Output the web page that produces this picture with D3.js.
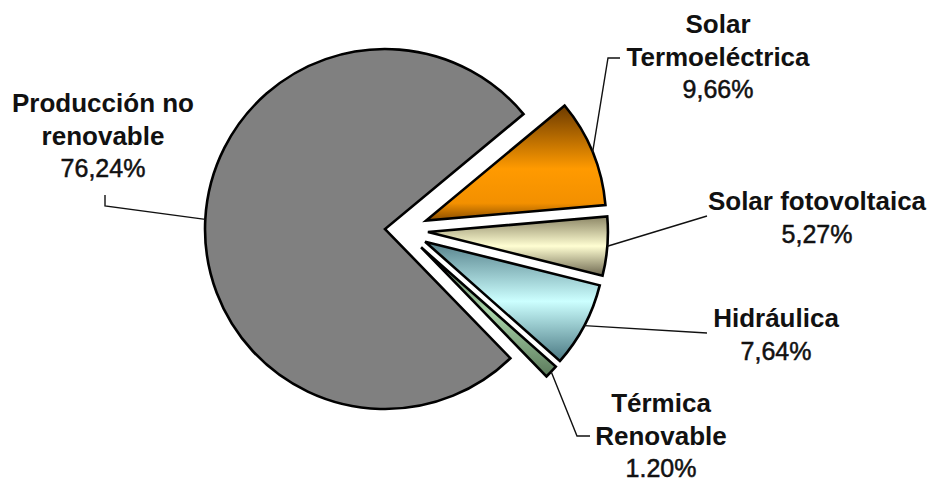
<!DOCTYPE html>
<html>
<head>
<meta charset="utf-8">
<script src="https://cdn.jsdelivr.net/npm/d3@7"></script>
<style>
  html, body { margin: 0; padding: 0; background: #ffffff; }
  svg { display: block; }
  .name { font-family: "Liberation Sans", Arial, sans-serif; font-weight: bold; font-size: 26px; fill: #111; }
  .pct { font-family: "Liberation Sans", Arial, sans-serif; font-weight: normal; font-size: 25px; fill: #111; stroke: #111; stroke-width: 0.5px; }
</style>
</head>
<body>
<div id="chart"></div>
<script>
// Data
const categories = ["Solar Termoeléctrica", "Solar fotovoltaica", "Hidráulica", "Térmica Renovable", "Producción no renovable"];
const values = [9.66, 5.27, 7.64, 1.20, 76.24];
const labelLines = [["Solar", "Termoeléctrica"], ["Solar fotovoltaica"], ["Hidráulica"], ["Térmica", "Renovable"], ["Producción no", "renovable"]];
const pctLabels = ["9,66%", "5,27%", "7,64%", "1.20%", "76,24%"];

// Layout / style
const width = 933, height = 481;
const cx = 403, cy = 230, radius = 180;
const startDeg = 50.3;
const explode = [25, 25, 25, 25, 18];
const lineHeight = 32.5;

// gradient stops per slice (top, middle, bottom of the slice box)
const gradients = [
    [["0", "#6b3a00"], ["0.55", "#ff9a00"], ["0.85", "#f39000"], ["1", "#8a4e00"]],
    [["0", "#8c8666"], ["0.5", "#fffed2"], ["1", "#6e6850"]],
    [["0", "#55808a"], ["0.5", "#ccffff"], ["1", "#4a7882"]],
    [["0", "#4d6b4d"], ["0.5", "#a9d4a9"], ["1", "#5b7a5b"]],
    null
];

// label anchor (centre x, first baseline y) and leader elbows, by slice
const labelPos = [[718, 33], [817, 210], [776, 327], [661, 412], [103, 112]];
const leaderElbows = [
    [[608, 58], [620, 58]],
    [[707, 216]],
    [[707, 333]],
    [[577, 436], [590, 436]],
    [[105, 206], [105, 195]]
];

const svg = d3.select('#chart').append('svg')
    .attr('width', width)
    .attr('height', height);

const defs = svg.append('defs');
gradients.forEach((stops, i) => {
    if (!stops) return;
    const lg = defs.append('linearGradient')
        .attr('id', 'grad' + i)
        .attr('x1', 0).attr('y1', 0).attr('x2', 0).attr('y2', 1);
    stops.forEach(s => lg.append('stop').attr('offset', s[0]).attr('stop-color', s[1]));
});

const start = startDeg * Math.PI / 180;
const pie = d3.pie()
    .sort(null)
    .value(d => d)
    .startAngle(start)
    .endAngle(start + 2 * Math.PI);

const arcs = pie(values);
const arc = d3.arc().innerRadius(0).outerRadius(radius);

// offset of each exploded slice
function offset(d, i) {
    const a = (d.startAngle + d.endAngle) / 2;
    return [Math.sin(a) * explode[i], -Math.cos(a) * explode[i]];
}

const g = svg.append('g').attr('transform', `translate(${cx},${cy})`);

g.selectAll('path.slice')
    .data(arcs)
    .enter()
    .append('path')
    .attr('class', 'slice')
    .attr('transform', (d, i) => {
        const o = offset(d, i);
        return `translate(${o[0]},${o[1]})`;
    })
    .attr('d', arc)
    .attr('fill', (d, i) => gradients[i] ? `url(#grad${i})` : '#808080')
    .attr('stroke', '#000')
    .attr('stroke-width', 2.6)
    .attr('stroke-linejoin', 'miter');

// leader lines
const line = d3.line();
arcs.forEach((d, i) => {
    const a = (d.startAngle + d.endAngle) / 2;
    const o = offset(d, i);
    const p0 = [cx + o[0] + Math.sin(a) * radius, cy + o[1] - Math.cos(a) * radius];
    svg.append('path')
        .attr('d', line([p0].concat(leaderElbows[i])))
        .attr('fill', 'none')
        .attr('stroke', '#111')
        .attr('stroke-width', 1.4);
});

// labels
arcs.forEach((d, i) => {
    const [lx, ly] = labelPos[i];
    const lines = labelLines[i];
    lines.forEach((t, k) => {
        svg.append('text')
            .attr('class', 'name')
            .attr('x', lx)
            .attr('y', ly + k * lineHeight)
            .attr('text-anchor', 'middle')
            .text(t);
    });
    svg.append('text')
        .attr('class', 'pct')
        .attr('x', lx)
        .attr('y', ly + lines.length * lineHeight)
        .attr('text-anchor', 'middle')
        .text(pctLabels[i]);
});
</script>
</body>
</html>
